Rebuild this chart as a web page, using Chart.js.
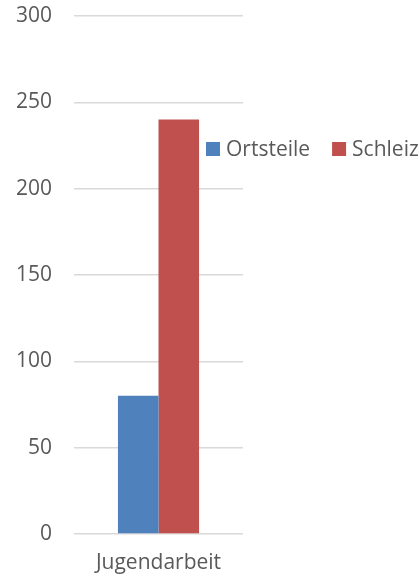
<!DOCTYPE html>
<html>
<head>
<meta charset="utf-8">
<script src="https://cdn.jsdelivr.net/npm/chart.js@4.4.0/dist/chart.umd.min.js"></script>
<style>
  html, body { margin: 0; padding: 0; background: #fff; }
  #wrap { width: 418px; height: 577px; }
</style>
</head>
<body>
<div id="wrap"><canvas id="myChart" width="418" height="577"></canvas></div>
<script>
// Daten
const categories = ["Jugendarbeit"];
const seriesNames = ["Ortsteile", "Schleiz"];
const ortsteile = [80];
const schleiz = [240];
const yTicks = [0, 50, 100, 150, 200, 250, 300];

const textColor = "#595959";
const fontFamily = "'Open Sans', sans-serif";

// Legende rechts neben dem Diagramm zeichnen
const sideLegend = {
    id: "sideLegend",
    afterDraw(chart) {
        const ctx = chart.ctx;
        const area = chart.chartArea;
        let x = area.right - 37;
        const y = 149;
        ctx.save();
        ctx.font = "21px " + fontFamily;
        ctx.textBaseline = "middle";
        ctx.fillStyle = textColor;
        chart.data.datasets.forEach(ds => {
            ctx.fillStyle = ds.backgroundColor;
            ctx.fillRect(x, y - 7, 14, 14);
            ctx.fillStyle = textColor;
            ctx.fillText(ds.label, x + 20, y + 1);
            x += 20 + ctx.measureText(ds.label).width + 22;
        });
        ctx.restore();
    }
};

const ctx = document.getElementById("myChart").getContext("2d");
new Chart(ctx, {
    type: "bar",
    data: {
        labels: categories,
        datasets: [
            { label: seriesNames[0], data: ortsteile, backgroundColor: "#4F81BD" },
            { label: seriesNames[1], data: schleiz, backgroundColor: "#C0504D" }
        ]
    },
    options: {
        responsive: false,
        animation: false,
        layout: { padding: { top: 16, right: 175, left: 0, bottom: 0 } },
        categoryPercentage: 0.48,
        barPercentage: 1,
        plugins: {
            legend: { display: false },
            tooltip: { enabled: false }
        },
        scales: {
            x: {
                grid: { display: false, drawTicks: false },
                border: { display: false },
                ticks: { color: textColor, font: { family: fontFamily, size: 21 }, padding: 16 },
                afterFit(scale) {
                    scale.height = 43;
                    scale.paddingLeft = 0;
                    scale.paddingRight = 0;
                }
            },
            y: {
                min: 0,
                max: 300,
                afterBuildTicks(scale) { scale.ticks = yTicks.map(v => ({ value: v })); },
                grid: { color: "#d9d9d9", lineWidth: 1.5, drawTicks: false },
                border: { display: false },
                ticks: { color: textColor, font: { family: fontFamily, size: 21 }, padding: 22 },
                afterFit(scale) {
                    scale.width = 74;
                    scale.paddingTop = 0;
                    scale.paddingBottom = 0;
                }
            }
        }
    },
    plugins: [sideLegend]
});
</script>
</body>
</html>
